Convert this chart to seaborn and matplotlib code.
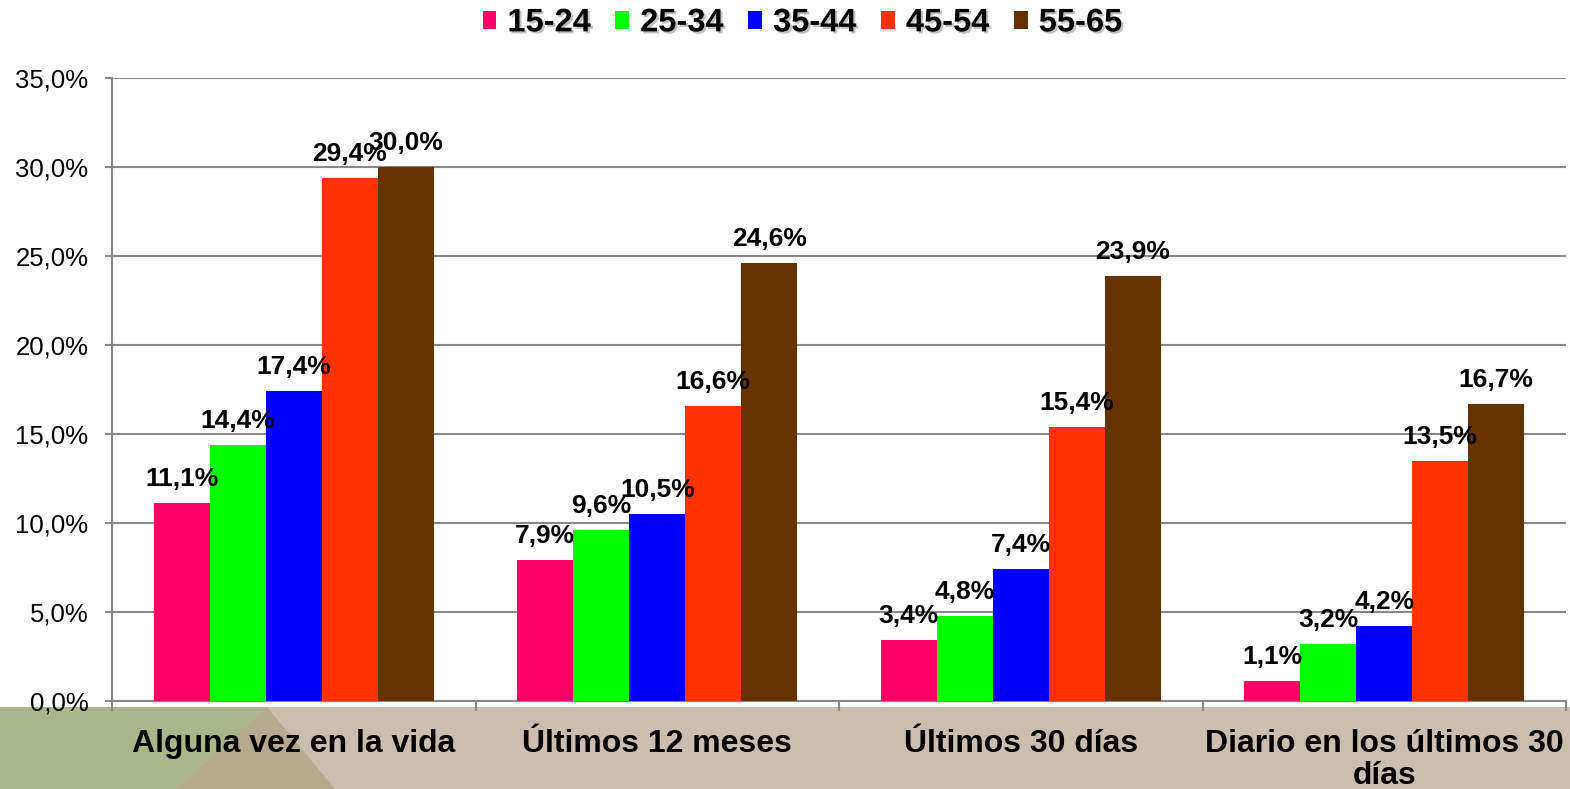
import seaborn as sns
import matplotlib.pyplot as plt
import matplotlib.patheffects as pe
import pandas as pd
from matplotlib.patches import Polygon, Patch
from matplotlib.ticker import FuncFormatter, FixedLocator

# Datos
categorias = ['Alguna vez en la vida', 'Últimos 12 meses', 'Últimos 30 días',
              'Diario en los últimos 30\ndías']
grupos = ['15-24', '25-34', '35-44', '45-54', '55-65']
v_15_24 = [11.1, 7.9, 3.4, 1.1]
v_25_34 = [14.4, 9.6, 4.8, 3.2]
v_35_44 = [17.4, 10.5, 7.4, 4.2]
v_45_54 = [29.4, 16.6, 15.4, 13.5]
v_55_65 = [30.0, 24.6, 23.9, 16.7]
colores = ['#FF0066', '#00FF00', '#0000FF', '#FF3300', '#663300']

valores = [v_15_24, v_25_34, v_35_44, v_45_54, v_55_65]
df = pd.DataFrame([(c, g, v[i]) for g, v in zip(grupos, valores)
                   for i, c in enumerate(categorias)],
                  columns=['categoria', 'grupo', 'valor'])

sns.set_style('white')
plt.rcParams['font.family'] = ['Liberation Sans', 'DejaVu Sans']
plt.rcParams['text.color'] = 'black'
plt.rcParams['xtick.color'] = 'black'
plt.rcParams['ytick.color'] = 'black'

fig = plt.figure(figsize=(15.7, 7.89), dpi=100)
ax = fig.add_axes([112 / 1570, 88 / 789, 1454 / 1570, 623 / 789])

# Banda decorativa inferior
fig.patches.append(Polygon([(0, 0), (1, 0), (1, 82 / 789), (0, 82 / 789)],
                           closed=True, transform=fig.transFigure,
                           facecolor='#CBBEAE', edgecolor='none', zorder=-2))
fig.patches.append(Polygon([(0, 0), (175 / 1570, 0), (267 / 1570, 82 / 789), (0, 82 / 789)],
                           closed=True, transform=fig.transFigure,
                           facecolor='#A8B68A', edgecolor='none', zorder=-1))
fig.patches.append(Polygon([(175 / 1570, 0), (335 / 1570, 0), (267 / 1570, 82 / 789)],
                           closed=True, transform=fig.transFigure,
                           facecolor='#B5AA90', edgecolor='none', zorder=-1))

sns.barplot(data=df, x='categoria', y='valor', hue='grupo', hue_order=grupos,
            palette=colores, saturation=1, width=0.77, gap=0, ax=ax,
            legend=False, linewidth=0, zorder=3)

# Etiquetas de datos
for cont in ax.containers:
    for bar in cont:
        h = bar.get_height()
        ax.annotate(f'{h:.1f}%'.replace('.', ','),
                    (bar.get_x() + bar.get_width() / 2, h),
                    xytext=(0, 12), textcoords='offset pixels',
                    ha='center', va='bottom', fontsize=19,
                    fontweight='bold', color='black', zorder=5)

ax.set_ylim(0, 35)
ax.set_xlim(-0.5, 3.5)
ax.yaxis.set_major_locator(FixedLocator([0, 5, 10, 15, 20, 25, 30, 35]))
ax.yaxis.set_major_formatter(FuncFormatter(lambda v, p: f'{v:.1f}%'.replace('.', ',')))
ax.grid(axis='y', color='#888888', linewidth=1.5, zorder=0)
ax.set_axisbelow(True)

for s in ['top', 'right']:
    ax.spines[s].set_visible(False)
for s in ['left', 'bottom']:
    ax.spines[s].set_color('#888888')
    ax.spines[s].set_linewidth(1.5)

ax.set_xlabel('')
ax.set_ylabel('')
ax.tick_params(axis='y', left=True, length=5, width=1.5, color='#888888',
               labelsize=18.5, labelcolor='black', pad=12)
ax.tick_params(axis='x', which='major', length=0, labelsize=23, pad=20,
               labelcolor='black')
ax.set_xticks(range(len(categorias)))
ax.set_xticklabels(categorias, fontweight='bold', linespacing=1.1)
ax.set_xticks([-0.5, 0.5, 1.5, 2.5, 3.5], minor=True)
ax.tick_params(axis='x', which='minor', bottom=True, length=7, width=1.5,
               color='#888888')

handles = [Patch(facecolor=c, edgecolor='none', label=g) for g, c in zip(grupos, colores)]
leg = fig.legend(handles=handles, loc='center', bbox_to_anchor=(0.511, 0.971),
                 ncol=5, frameon=False, handlelength=0.42, handleheight=0.45,
                 handletextpad=0.34, columnspacing=0.76,
                 prop={'weight': 'bold', 'size': 23.5})
for t in leg.get_texts():
    t.set_path_effects([pe.SimplePatchShadow(offset=(1.5, -1.5), shadow_rgbFace='#999999',
                                             alpha=0.6), pe.Normal()])

fig.savefig('out.png', dpi=100)
